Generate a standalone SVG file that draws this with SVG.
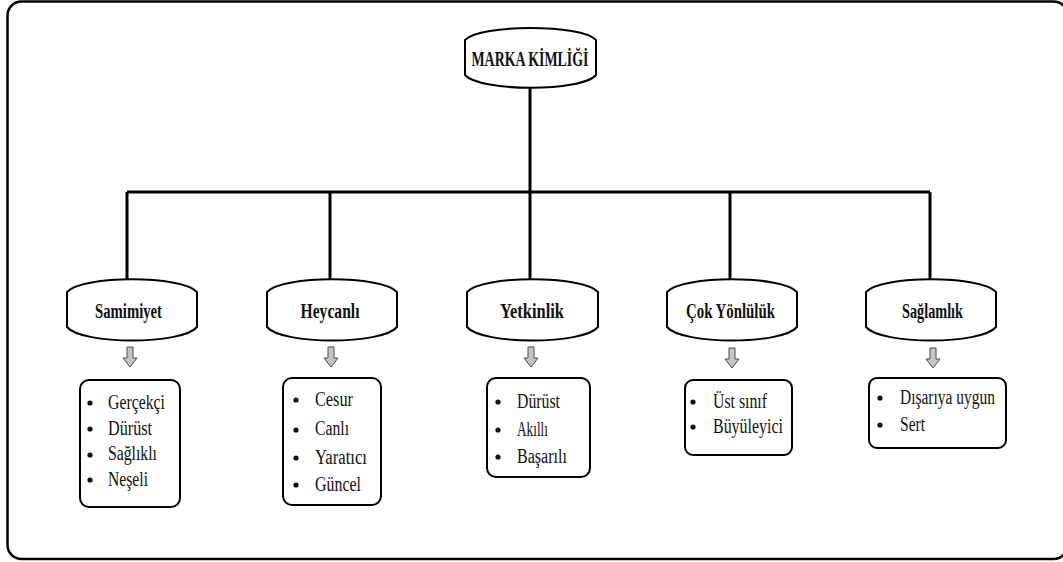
<svg xmlns="http://www.w3.org/2000/svg" width="1063" height="562" viewBox="0 0 1063 562">
  <style>
    .frame { fill: #ffffff; stroke: #000; stroke-width: 2.5; }
    .node { fill: #ffffff; stroke: #000; stroke-width: 2; }
    .list { fill: #ffffff; stroke: #000; stroke-width: 2; }
    .wire { fill: none; stroke: #000; stroke-width: 3; }
    .arrow { fill: #c4c4c4; stroke: #4a4a4a; stroke-width: 1; }
    text { font-family: 'Liberation Serif', 'DejaVu Serif', serif; fill: #111; }
    .label { font-weight: bold; font-size: 20px; text-anchor: middle; }
    .item { font-size: 20px; }
    .dot { fill: #111; }
  </style>
  <defs>
    <path id="down" d="M-3,0 H3 V11 H7 L0,20 L-7,11 H-3 Z"/>
  </defs>

  <!-- outer frame, right edge runs just past the canvas -->
  <rect class="frame" x="7.5" y="1.5" width="1060" height="557.5" rx="14"/>

  <g id="connectors">
    <path class="wire" d="M530,88 V192 M127,192 H930 M127,192 V279 M330,192 V279 M530,192 V279 M730,192 V279 M930,192 V279"/>
    <use href="#down" class="arrow" x="130" y="347"/>
    <use href="#down" class="arrow" x="331" y="347"/>
    <use href="#down" class="arrow" x="531" y="347"/>
    <use href="#down" class="arrow" x="732" y="348"/>
    <use href="#down" class="arrow" x="933" y="348"/>
  </g>

  <g id="marka-kimligi">
    <path class="node" d="M465,40 C480,24 582,24 596,40 L596,75 C582,92 480,92 465,75 Z"/>
    <text class="label" x="530" y="66" textLength="117" lengthAdjust="spacingAndGlyphs">MARKA KİMLİĞİ</text>
  </g>

  <g id="samimiyet">
    <path class="node" d="M67,292 C82,275 182,275 197,292 L197,327 C182,345 82,345 67,327 Z"/>
    <text class="label" x="128.5" y="318" textLength="67" lengthAdjust="spacingAndGlyphs">Samimiyet</text>
  </g>
  <g id="heycanli">
    <path class="node" d="M267,292 C282,275 382,275 397,292 L397,327 C382,345 282,345 267,327 Z"/>
    <text class="label" x="330" y="318" textLength="59" lengthAdjust="spacingAndGlyphs">Heycanlı</text>
  </g>
  <g id="yetkinlik">
    <path class="node" d="M467,292 C482,275 583,275 598,292 L598,327 C583,345 482,345 467,327 Z"/>
    <text class="label" x="532" y="318" textLength="64" lengthAdjust="spacingAndGlyphs">Yetkinlik</text>
  </g>
  <g id="cok-yonluluk">
    <path class="node" d="M667,292 C682,275 782,275 797,292 L797,327 C782,345 682,345 667,327 Z"/>
    <text class="label" x="730.5" y="318" textLength="89" lengthAdjust="spacingAndGlyphs">Çok Yönlülük</text>
  </g>
  <g id="saglamlik">
    <path class="node" d="M866,292 C881,275 981,275 996,292 L996,327 C981,345 881,345 866,327 Z"/>
    <text class="label" x="932.5" y="318" textLength="61" lengthAdjust="spacingAndGlyphs">Sağlamlık</text>
  </g>

  <g id="list-samimiyet">
    <rect class="list" x="80" y="380" width="100" height="127" rx="9"/>
    <circle class="dot" cx="90" cy="403" r="2.6"/>
    <circle class="dot" cx="90" cy="429" r="2.6"/>
    <circle class="dot" cx="90" cy="455" r="2.6"/>
    <circle class="dot" cx="90" cy="480" r="2.6"/>
    <text class="item" x="108" y="409" textLength="57" lengthAdjust="spacingAndGlyphs">Gerçekçi</text>
    <text class="item" x="108" y="435" textLength="44" lengthAdjust="spacingAndGlyphs">Dürüst</text>
    <text class="item" x="108" y="460" textLength="49" lengthAdjust="spacingAndGlyphs">Sağlıklı</text>
    <text class="item" x="108" y="486" textLength="40" lengthAdjust="spacingAndGlyphs">Neşeli</text>
  </g>

  <g id="list-heycanli">
    <rect class="list" x="283" y="378" width="98" height="127" rx="9"/>
    <circle class="dot" cx="296" cy="400" r="2.6"/>
    <circle class="dot" cx="296" cy="430" r="2.6"/>
    <circle class="dot" cx="296" cy="458" r="2.6"/>
    <circle class="dot" cx="296" cy="485" r="2.6"/>
    <text class="item" x="315" y="406" textLength="38" lengthAdjust="spacingAndGlyphs">Cesur</text>
    <text class="item" x="315" y="435" textLength="34" lengthAdjust="spacingAndGlyphs">Canlı</text>
    <text class="item" x="315" y="464" textLength="52" lengthAdjust="spacingAndGlyphs">Yaratıcı</text>
    <text class="item" x="315" y="491" textLength="46" lengthAdjust="spacingAndGlyphs">Güncel</text>
  </g>

  <g id="list-yetkinlik">
    <rect class="list" x="487" y="378" width="103" height="99" rx="9"/>
    <circle class="dot" cx="498" cy="402" r="2.6"/>
    <circle class="dot" cx="498" cy="430" r="2.6"/>
    <circle class="dot" cx="498" cy="457" r="2.6"/>
    <text class="item" x="517" y="408" textLength="43" lengthAdjust="spacingAndGlyphs">Dürüst</text>
    <text class="item" x="517" y="436" textLength="31" lengthAdjust="spacingAndGlyphs">Akıllı</text>
    <text class="item" x="517" y="463" textLength="50" lengthAdjust="spacingAndGlyphs">Başarılı</text>
  </g>

  <g id="list-cok-yonluluk">
    <rect class="list" x="685" y="380" width="107" height="75" rx="8"/>
    <circle class="dot" cx="693" cy="402" r="2.6"/>
    <circle class="dot" cx="693" cy="427" r="2.6"/>
    <text class="item" x="713" y="408" textLength="54" lengthAdjust="spacingAndGlyphs">Üst sınıf</text>
    <text class="item" x="713" y="433" textLength="70" lengthAdjust="spacingAndGlyphs">Büyüleyici</text>
  </g>

  <g id="list-saglamlik">
    <rect class="list" x="869" y="378" width="137" height="70" rx="8"/>
    <circle class="dot" cx="880" cy="398" r="2.6"/>
    <circle class="dot" cx="880" cy="425" r="2.6"/>
    <text class="item" x="900" y="404" textLength="95" lengthAdjust="spacingAndGlyphs">Dışarıya uygun</text>
    <text class="item" x="900" y="431" textLength="25" lengthAdjust="spacingAndGlyphs">Sert</text>
  </g>
</svg>
